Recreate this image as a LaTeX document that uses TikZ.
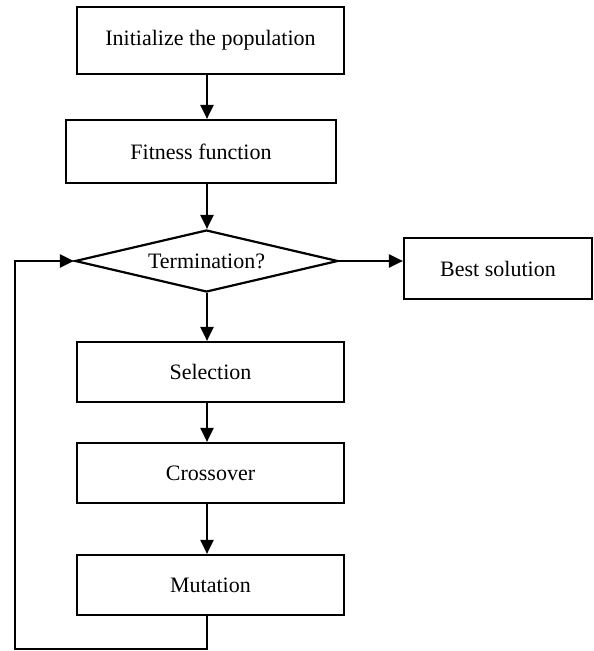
\documentclass[tikz,border=0pt]{standalone}
\usepackage{fontspec}
\setmainfont{Liberation Serif}
\usetikzlibrary{arrows.meta,shapes.geometric}
\begin{document}
\begin{tikzpicture}[x=1pt,y=-1pt,
  every node/.style={font=\fontsize{22}{26}\selectfont},
  procbox/.style={draw,line width=2.2pt,rectangle,inner sep=0pt,minimum width=267pt,minimum height=60pt},
  decbox/.style={draw,line width=2.2pt,diamond,aspect=4.24,inner sep=0pt,minimum width=263pt,minimum height=62pt},
  arr/.style={line width=2.2pt,-{Triangle[length=14pt,width=13pt]}}]
\useasboundingbox (0,0) rectangle (594,651);
\node[procbox,minimum height=67pt] (init) at (210.5,40.5) {Initialize the population};
\node[procbox,minimum width=270pt,minimum height=63pt] (fit) at (201,151.5) {Fitness function};
\node[decbox] (term) at (206.5,261) {Termination?};
\node[procbox,minimum width=188pt,minimum height=61pt] (best) at (498,268.5) {Best solution};
\node[procbox] (sel) at (210.5,372) {Selection};
\node[procbox] (cross) at (210.5,473) {Crossover};
\node[procbox] (mut) at (210.5,585) {Mutation};
\coordinate (ax) at (207,0);
\coordinate (loopbl) at (15,649);
\draw[arr] (ax |- init.south) -- (ax |- fit.north);
\draw[arr] (ax |- fit.south) -- (ax |- term.north);
\draw[arr] (term.east) -- (term.east -| best.west);
\draw[arr] (ax |- term.south) -- (ax |- sel.north);
\draw[arr] (ax |- sel.south) -- (ax |- cross.north);
\draw[arr] (ax |- cross.south) -- (ax |- mut.north);
\draw[arr] (ax |- mut.south) -- (ax |- loopbl) -- (loopbl) |- (term.west);
\end{tikzpicture}
\end{document}
